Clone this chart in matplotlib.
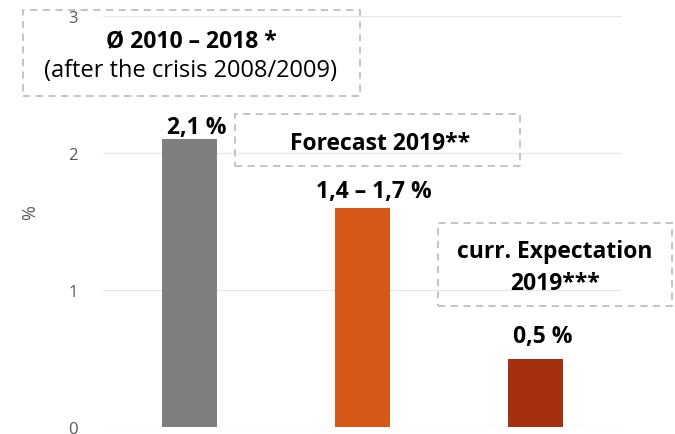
import matplotlib.pyplot as plt
from matplotlib.patches import Rectangle

categories = ["Ø 2010 – 2018", "Forecast 2019", "curr. Expectation 2019"]
values = [2.1, 1.6, 0.5]
value_labels = ["2,1 %", "1,4 – 1,7 %", "0,5 %"]
colors = ["#7f7f7f", "#d55819", "#a5300f"]
yticks = [0, 1, 2, 3]

plt.rcParams['font.family'] = ['Open Sans', 'DejaVu Sans']

W, H = 675, 435
fig = plt.figure(figsize=(W / 100, H / 100), dpi=100)
ax = fig.add_axes([103 / W, 7 / H, 519 / W, 411 / H])

x = range(len(values))
ax.bar(x, values, width=0.32, color=colors, zorder=3)
ax.set_xlim(-0.5, 2.5)
ax.set_ylim(0, 3)
ax.set_yticks(yticks)
ax.set_xticks([])
ax.grid(axis='y', color='#e8e8e8', linewidth=1, zorder=0)
for s in ax.spines.values():
    s.set_visible(False)
ax.tick_params(axis='y', length=0, pad=18, labelsize=12, labelcolor='#595959')
ax.set_ylabel('%', fontsize=13, color='#595959', va='center')
ax.yaxis.set_label_coords(-0.141, 0.523)

# value labels above the bars (offsets in points)
offsets = [(5, 4.5), (8.5, 7.5), (5.5, 12)]
for i, (v, lab) in enumerate(zip(values, value_labels)):
    ax.annotate(lab, (i, v), xytext=offsets[i], textcoords='offset points',
                ha='center', va='baseline', fontsize=16.5, fontweight='bold', zorder=4)


def box(x0, y0, x1, y1):
    # dashed frame given in pixel coordinates from the top left
    fig.patches.append(Rectangle((x0 / W, 1 - y1 / H), (x1 - x0) / W, (y1 - y0) / H,
                                 transform=fig.transFigure, fill=False,
                                 edgecolor='#bfbfbf', linewidth=1.3,
                                 linestyle=(0, (4, 3)), zorder=5))


def label(xc, yb, text, size=16.5, **kw):
    fig.text(xc / W, 1 - yb / H, text, ha='center', va='baseline', fontsize=size, **kw)


box(23, 11, 360, 97)
label(191, 47, "Ø 2010 – 2018 *", fontweight='bold')
label(190, 77, "(after the crisis 2008/2009)", size=17)

box(235, 115, 520, 167)
label(380, 150, "Forecast 2019**", fontweight='bold')

box(438, 224, 672, 307)
label(555, 258, "curr. Expectation", fontweight='bold')
label(555, 290, "2019***", fontweight='bold')

fig.savefig('out.png', dpi=100)
